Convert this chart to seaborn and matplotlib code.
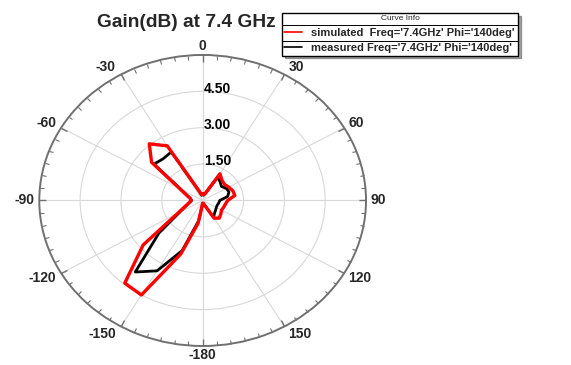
import numpy as np
import pandas as pd
import matplotlib
matplotlib.use("Agg")
import matplotlib.pyplot as plt
import matplotlib.transforms as mtransforms
from matplotlib.lines import Line2D
import seaborn as sns

# ---------------- data ----------------
theta_deg = list(range(-180, 181, 10))
simulated_gain = [0.12, 0.95, 2.35, 4.50, 4.45, 2.85, 1.06, 0.67, 0.50, 0.42,
                  0.46, 0.62, 0.97, 2.45, 3.05, 2.60, 0.47, 0.25, 0.28, 0.25,
                  0.35, 1.27, 1.10, 1.04, 1.10, 1.18, 1.20, 0.92, 0.85, 0.82,
                  0.80, 0.87, 0.95, 0.84, 0.20, 0.12, 0.12]
measured_gain = [0.12, 0.85, 2.20, 3.35, 3.85, 2.10, 0.98, 0.64, 0.49, 0.41,
                 0.45, 0.60, 0.93, 2.33, 2.25, 2.31, 0.45, 0.22, 0.25, 0.22,
                 0.33, 1.10, 1.00, 0.90, 1.00, 1.03, 0.93, 0.63, 0.60, 0.57,
                 0.58, 0.62, 0.68, 0.80, 0.20, 0.12, 0.12]
angle_ticks = [0, 30, 60, 90, 120, 150, 180, 210, 240, 270, 300, 330]
angle_labels = ["0", "30", "60", "90", "120", "150", "-180", "-150", "-120",
                "-90", "-60", "-30"]
radial_ticks = [1.5, 3.0, 4.5]
radial_labels = ["1.50", "3.00", "4.50"]
series_names = ["simulated  Freq='7.4GHz' Phi='140deg'",
                "measured Freq='7.4GHz' Phi='140deg'"]
title = "Gain(dB) at 7.4 GHz"
r_max = 6.0

# ---------------- style ----------------
sns.set_style("white")
plt.rcParams["font.family"] = ["Liberation Sans", "DejaVu Sans"]

fig = plt.figure(figsize=(5.71, 3.65), dpi=100)
ax = fig.add_axes([0.0688, 0.0521, 0.5722, 0.7973], projection="polar")
ax.set_theta_zero_location("N")
ax.set_theta_direction(-1)

df = pd.DataFrame({"theta": np.deg2rad(theta_deg),
                   "simulated": simulated_gain,
                   "measured": measured_gain})

sns.lineplot(data=df, x="theta", y="measured", ax=ax, sort=False,
             estimator=None, color="black", lw=2.0)
sns.lineplot(data=df, x="theta", y="simulated", ax=ax, sort=False,
             estimator=None, color="#ff0000", lw=2.4)

ax.set_ylim(0, r_max)
ax.set_aspect("auto")
ax.set_xlabel("")
ax.set_ylabel("")

ax.set_xticks(np.deg2rad(angle_ticks))
ax.set_xticklabels([])
ax.set_xticks(np.deg2rad(np.arange(0, 360, 5)), minor=True)
ax.tick_params(axis="x", which="both", bottom=False, top=True)
ax.tick_params(axis="x", which="major", direction="in", length=5, width=1,
               color="#707070")
ax.tick_params(axis="x", which="minor", direction="in", length=3, width=0.8,
               color="#707070")
ax.set_yticks(radial_ticks)
ax.set_yticklabels([])
ax.grid(True, color="#d8d8d8", lw=0.8)
ax.spines["polar"].set_color("#707070")
ax.spines["polar"].set_linewidth(1.4)

# angle labels placed just outside the (elliptic) outer ring
for a, lab in zip(angle_ticks, angle_labels):
    s = np.sin(np.deg2rad(a))
    c = np.cos(np.deg2rad(a))
    if abs(s) < 1e-6:
        ha, dx = "center", 0
    elif s > 0:
        ha, dx = "left", 4
    else:
        ha, dx = "right", -5
    dy = 9 * c
    tr = mtransforms.offset_copy(ax.transData, fig=fig, x=dx, y=dy, units="dots")
    ax.text(np.deg2rad(a), r_max, lab, transform=tr, ha=ha, va="center",
            fontsize=10, fontweight="bold", clip_on=False)

off = mtransforms.offset_copy(ax.transData, fig=fig, x=1.0, y=-1.0,
                              units="points")
for r, lab in zip(radial_ticks, radial_labels):
    ax.text(0, r, lab, transform=off, ha="left", va="baseline",
            fontsize=10, fontweight="bold", color="black", zorder=5)

fig.text(186 / 571, 1 - 22.5 / 365, title, ha="center", va="center",
         fontsize=13.8, fontweight="bold")

leg = fig.legend([Line2D([], [], color="#ff0000", lw=1.2),
                  Line2D([], [], color="black", lw=1.2)],
                 series_names, title="Curve Info",
                 loc="upper left",
                 bbox_to_anchor=(282 / 571, 1 - 13 / 365, (518 - 282) / 571, 0.0),
                 mode="expand", borderaxespad=0, borderpad=0.2,
                 labelspacing=0.5, handlelength=1.6, handletextpad=0.8,
                 prop={"weight": "bold", "size": 8}, title_fontsize=6,
                 frameon=True, fancybox=False, shadow=True, edgecolor="black")
leg.get_frame().set_linewidth(1.0)

fig.canvas.draw()
inv = fig.transFigure.inverted()
tb = leg.get_title().get_window_extent()
t1 = leg.get_texts()[0].get_window_extent()
t2 = leg.get_texts()[1].get_window_extent()
fb = leg.get_frame().get_window_extent()
x0, _ = inv.transform((fb.x0, 0))
x1, _ = inv.transform((fb.x1, 0))
for ya, yb in [(tb.y0, t1.y1), (t1.y0, t2.y1)]:
    _, yy = inv.transform((0, (ya + yb) / 2))
    fig.add_artist(Line2D([x0, x1], [yy, yy], transform=fig.transFigure,
                          color="black", lw=0.7, zorder=20))

fig.savefig("out.png", dpi=100)
